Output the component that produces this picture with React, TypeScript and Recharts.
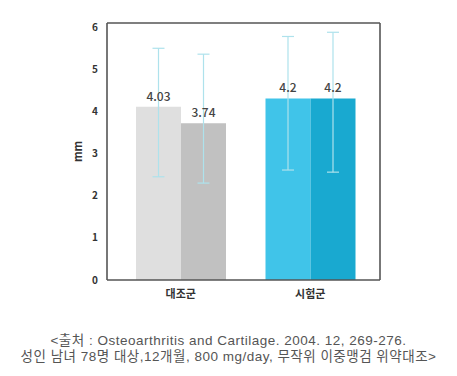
import { BarChart, Bar, XAxis, YAxis, ErrorBar, LabelList, Cell } from 'recharts';

const groups = ['대조군', '시험군'];

// two bars per group (left / right)
const leftValues = [4.11, 4.31];
const rightValues = [3.72, 4.31];
const leftLabels = ['4.03', '4.2'];
const rightLabels = ['3.74', '4.2'];

// error bar ends
const leftLow = [2.45, 2.61];
const leftHigh = [5.5, 5.78];
const rightLow = [2.3, 2.56];
const rightHigh = [5.36, 5.88];

const yTicks = [0, 1, 2, 3, 4, 5, 6];

const leftColors = ['#dfdfdf', '#40c4e9'];
const rightColors = ['#c1c1c1', '#19a9d0'];

const sourceLines = [
  '<출처 : Osteoarthritis and Cartilage. 2004. 12, 269-276.',
  '성인 남녀 78명 대상,12개월, 800 mg/day, 무작위 이중맹검 위약대조>'
];

const data = groups.map((g, i) => ({
  group: g,
  left: leftValues[i],
  right: rightValues[i],
  leftLabel: leftLabels[i],
  rightLabel: rightLabels[i],
  leftErr: [leftValues[i] - leftLow[i], leftHigh[i] - leftValues[i]],
  rightErr: [rightValues[i] - rightLow[i], rightHigh[i] - rightValues[i]]
}));

const font = '"Noto Sans CJK KR", "Noto Sans", sans-serif';
const noteFont = '"Liberation Sans", "Noto Sans CJK KR", sans-serif';
const frame = '#555555';
const errColor = '#aee2ec';

export default function App() {
  return (
    <div
      style={{
        position: 'absolute',
        left: 0,
        top: 0,
        width: 457,
        height: 376,
        background: '#fff',
        fontFamily: font
      }}
    >
      <BarChart
        width={457}
        height={310}
        data={data}
        margin={{ top: 22, right: 76, left: 67, bottom: 0 }}
        barCategoryGap={20}
        barGap={0}
      >
        <XAxis
          dataKey="group"
          height={30}
          padding={{ left: 9, right: 5 }}
          axisLine={{ stroke: frame, strokeWidth: 1.6 }}
          tickLine={false}
          tickSize={0}
          tickMargin={10}
          tick={{ fill: '#333', fontSize: 11, fontWeight: 600, fontFamily: font }}
        />
        <XAxis
          xAxisId="top"
          dataKey="group"
          orientation="top"
          height={1}
          tick={false}
          tickLine={false}
          axisLine={{ stroke: frame, strokeWidth: 1.6 }}
        />
        <YAxis
          domain={[0, 6.1]}
          ticks={yTicks}
          width={40}
          axisLine={{ stroke: frame, strokeWidth: 1.6 }}
          tickLine={false}
          tickSize={0}
          tickMargin={9}
          tick={{ fill: '#333', fontSize: 10, fontWeight: 600, fontFamily: font }}
          label={{
            value: 'mm',
            angle: -90,
            position: 'center',
            dx: -9,
            fill: '#333',
            fontSize: 11,
            fontWeight: 600,
            fontFamily: font
          }}
        />
        <YAxis
          yAxisId="right"
          orientation="right"
          domain={[0, 6.1]}
          width={1}
          tick={false}
          tickLine={false}
          axisLine={{ stroke: frame, strokeWidth: 1.6 }}
        />
        <Bar dataKey="left" isAnimationActive={false}>
          {data.map((d, i) => (
            <Cell key={d.group} fill={leftColors[i]} />
          ))}
          <ErrorBar dataKey="leftErr" width={6} stroke={errColor} strokeWidth={1.2} />
          <LabelList
            dataKey="leftLabel"
            position="top"
            offset={6}
            fill="#444"
            fontSize={12}
            fontWeight={500}
            fontFamily={font}
          />
        </Bar>
        <Bar dataKey="right" isAnimationActive={false}>
          {data.map((d, i) => (
            <Cell key={d.group} fill={rightColors[i]} />
          ))}
          <ErrorBar dataKey="rightErr" width={6} stroke={errColor} strokeWidth={1.2} />
          <LabelList
            dataKey="rightLabel"
            position="top"
            offset={6}
            fill="#444"
            fontSize={12}
            fontWeight={500}
            fontFamily={font}
          />
        </Bar>
      </BarChart>
      {sourceLines.map((line, i) => (
        <div
          key={i}
          style={{
            position: 'absolute',
            left: 0,
            top: 333 + i * 16,
            width: 457,
            height: 16,
            textAlign: 'center',
            fontFamily: noteFont,
            fontSize: 13.5,
            letterSpacing: 0.5,
            lineHeight: '16px',
            color: '#555',
            whiteSpace: 'nowrap'
          }}
        >
          {line}
        </div>
      ))}
    </div>
  );
}
